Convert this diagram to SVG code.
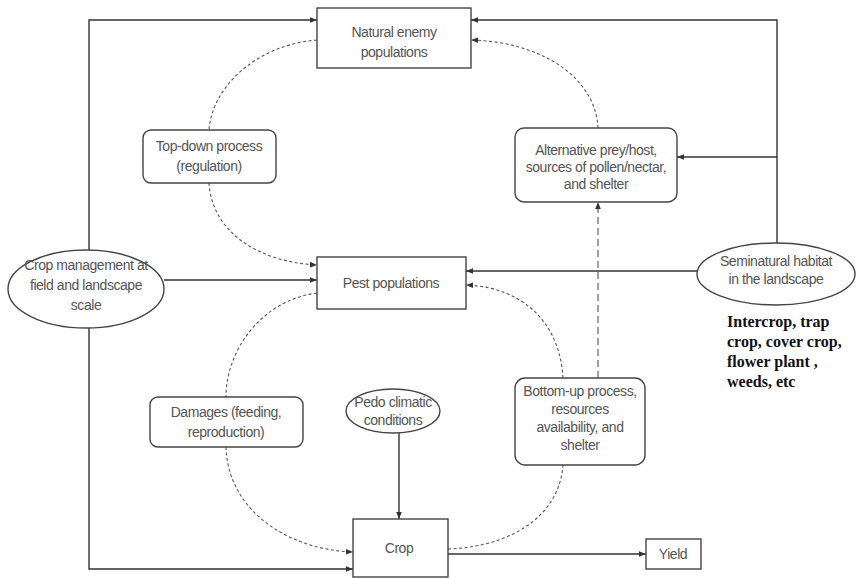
<svg xmlns="http://www.w3.org/2000/svg" width="861" height="578" viewBox="0 0 861 578">
<style>
.box{fill:#fff;stroke:#444;stroke-width:1.4}
.t{font-family:"Liberation Sans",Arial,sans-serif;font-size:14px;letter-spacing:-0.45px;fill:#555;text-anchor:middle}
.s{fill:none;stroke:#333;stroke-width:1.4}
.d{fill:none;stroke:#555;stroke-width:1.1;stroke-dasharray:3,2.5}
.ld{fill:none;stroke:#555;stroke-width:1.1;stroke-dasharray:7,4}
.note{font-family:"Liberation Serif","Times New Roman",serif;font-size:16px;font-weight:bold;fill:#111}
</style>
<defs>
<marker id="ah" viewBox="0 0 10 10" refX="10" refY="5" markerWidth="7" markerHeight="7" markerUnits="userSpaceOnUse" orient="auto">
<path d="M0,1 L10,5 L0,9 z" fill="#333"/>
</marker>
</defs>
<rect width="861" height="578" fill="#fff"/>
<g id="connectors">
<path class="s" d="M89,250 L89,20 L317,20" marker-end="url(#ah)"/>
<path class="s" d="M89,328 L89,569 L353,569" marker-end="url(#ah)"/>
<path class="s" d="M164,280 L317,280" marker-end="url(#ah)"/>
<path class="s" d="M777,243 L777,20 L471,20" marker-end="url(#ah)"/>
<path class="s" d="M777,157 L677,157" marker-end="url(#ah)"/>
<path class="s" d="M697,271 L466,271" marker-end="url(#ah)"/>
<path class="s" d="M399,433 L399,519" marker-end="url(#ah)"/>
<path class="s" d="M448,554 L646,554" marker-end="url(#ah)"/>
<path class="d" d="M317,40 C255,45 212,88 209,130"/>
<path class="d" d="M209,183 C212,232 258,262 317,265" marker-end="url(#ah)"/>
<path class="d" d="M598,128 C596,80 545,42 471,40" marker-end="url(#ah)"/>
<path class="ld" d="M598,378 L598,202" marker-end="url(#ah)"/>
<path class="d" d="M317,293 C262,300 226,350 226,397"/>
<path class="d" d="M226,447 C228,512 290,550 353,552" marker-end="url(#ah)"/>
<path class="d" d="M448,549 C520,546 560,510 563,465"/>
<path class="d" d="M563,378 C560,322 522,287 466,285" marker-end="url(#ah)"/>
</g>
<g id="natural-enemy">
<rect class="box" x="317" y="8" width="154" height="60"/>
<text class="t" x="394" y="37">Natural enemy</text>
<text class="t" x="394" y="57">populations</text>
</g>
<g id="top-down">
<rect class="box" x="143" y="130" width="133" height="53" rx="8"/>
<text class="t" x="209" y="151">Top-down process</text>
<text class="t" x="209" y="171">(regulation)</text>
</g>
<g id="alternative">
<rect class="box" x="515" y="128" width="162" height="74" rx="9"/>
<text class="t" x="596" y="155">Alternative prey/host,</text>
<text class="t" x="596" y="172">sources of pollen/nectar,</text>
<text class="t" x="596" y="189">and shelter</text>
</g>
<g id="crop-management">
<ellipse class="box" cx="86" cy="289" rx="78" ry="39"/>
<text class="t" x="86" y="270">Crop management at</text>
<text class="t" x="86" y="290">field and landscape</text>
<text class="t" x="86" y="310">scale</text>
</g>
<g id="seminatural">
<ellipse class="box" cx="776" cy="274" rx="79" ry="31"/>
<text class="t" x="776" y="266">Seminatural habitat</text>
<text class="t" x="776" y="284">in the landscape</text>
</g>
<g id="note">
<text class="note" x="727" y="327">Intercrop, trap</text>
<text class="note" x="727" y="347">crop, cover crop,</text>
<text class="note" x="727" y="367">flower plant  ,</text>
<text class="note" x="727" y="387">weeds, etc</text>
</g>
<g id="pest">
<rect class="box" x="317" y="257" width="149" height="52"/>
<text class="t" x="391" y="288">Pest populations</text>
</g>
<g id="damages">
<rect class="box" x="150" y="397" width="153" height="50" rx="8"/>
<text class="t" x="226" y="417">Damages (feeding,</text>
<text class="t" x="226" y="437">reproduction)</text>
</g>
<g id="pedo">
<ellipse class="box" cx="393" cy="411" rx="47" ry="22"/>
<text class="t" x="393" y="407">Pedo climatic</text>
<text class="t" x="393" y="425">conditions</text>
</g>
<g id="bottom-up">
<rect class="box" x="515" y="378" width="130" height="87" rx="10"/>
<text class="t" x="580" y="396">Bottom-up process,</text>
<text class="t" x="580" y="414">resources</text>
<text class="t" x="580" y="432">availability, and</text>
<text class="t" x="580" y="450">shelter</text>
</g>
<g id="crop">
<rect class="box" x="353" y="519" width="95" height="58"/>
<text class="t" x="399" y="553">Crop</text>
</g>
<g id="yield">
<rect class="box" x="646" y="539" width="55" height="30"/>
<text class="t" x="673" y="559">Yield</text>
</g>
</svg>
